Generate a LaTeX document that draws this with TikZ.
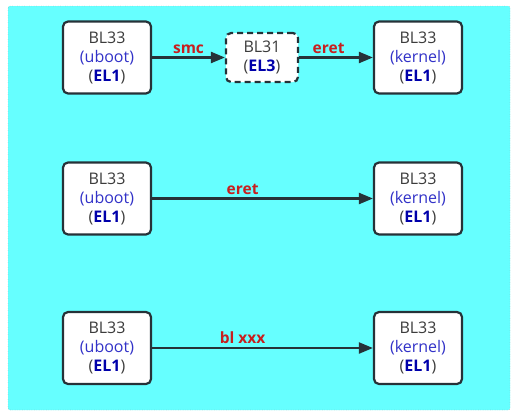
\documentclass[tikz,border=0pt]{standalone}
\usepackage{fontspec}
\setmainfont{Open Sans}
\usetikzlibrary{arrows.meta}
\definecolor{bgcyan}{RGB}{102,255,255}
\definecolor{boxline}{RGB}{38,50,56}
\definecolor{txtgray}{RGB}{60,60,60}
\definecolor{ubblue}{RGB}{50,50,200}
\definecolor{elblue}{RGB}{0,0,170}
\definecolor{lblred}{RGB}{200,30,30}
\tikzset{
  blk/.style={draw=boxline, line width=2.2pt, rounded corners=5pt, fill=white,
    minimum width=88pt, minimum height=72pt, align=center, inner sep=0pt,
    font=\fontsize{16pt}{19pt}\selectfont, text=txtgray},
  blkd/.style={blk, dashed, dash pattern=on 6pt off 4pt, minimum width=72pt, minimum height=49pt},
  conn/.style={draw=boxline, line width=2.2pt, -{Triangle[length=14pt,width=11pt]}},
  lbl/.style={text=lblred, font=\fontsize{15.5pt}{16pt}\selectfont\bfseries, above, inner sep=3pt}
}
\newcommand{\ubt}{{\color{ubblue}(uboot)}}
\newcommand{\krn}{{\color{ubblue}(kernel)}}
\newcommand{\elx}[1]{(\textbf{\color{elblue}EL#1})}
\begin{document}
\begin{tikzpicture}[x=1pt,y=-1pt]
\useasboundingbox (0,0) rectangle (518,418);
\fill[white] (0,0) rectangle (518,418);
\draw[fill=bgcyan, draw=gray, dotted, rounded corners=2pt] (8,6) rectangle (510,410);
% row 1
\node[blk] (u1) at (107,57.5) {BL33\\\ubt\\\elx{1}};
\node[blkd] (b31) at (262,57.5) {BL31\\\elx{3}};
\node[blk] (k1) at (418,57.5) {BL33\\\krn\\\elx{1}};
\draw[conn] (u1) -- node[lbl, pos=0.5] {smc} (b31);
\draw[conn] (b31) -- node[lbl, pos=0.4] {eret} (k1);
% row 2
\node[blk] (u2) at (107,198.5) {BL33\\\ubt\\\elx{1}};
\node[blk] (k2) at (418,198.5) {BL33\\\krn\\\elx{1}};
\draw[conn] (u2) -- node[lbl, pos=0.41] {eret} (k2);
% row 3
\node[blk] (u3) at (107,348) {BL33\\\ubt\\\elx{1}};
\node[blk] (k3) at (418,348) {BL33\\\krn\\\elx{1}};
\draw[conn] (u3) -- node[lbl, pos=0.41] {bl xxx} (k3);
\end{tikzpicture}
\end{document}
